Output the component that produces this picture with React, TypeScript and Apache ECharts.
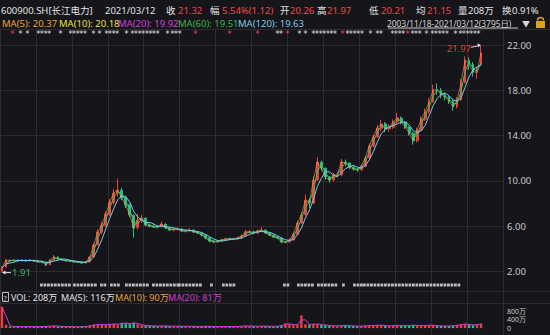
import React, { useEffect, useRef } from "react";
import * as echarts from "echarts";

// [open, close, low, high] per bucket (~32 trading days each)
const candles: number[][] = [
  [2.05, 2.32, 1.91, 2.45], [2.4, 3.02, 2.35, 3.1], [3.0, 2.94, 2.86, 3.08], [2.95, 3.02, 2.9, 3.1],
  [3.03, 2.94, 2.88, 3.08], [2.93, 3.02, 2.89, 3.09], [3.01, 2.94, 2.87, 3.06], [2.95, 3.02, 2.9, 3.1],
  [3.0, 2.94, 2.86, 3.05], [2.95, 2.85, 2.8, 3.0], [2.86, 2.85, 2.78, 2.95], [2.84, 2.58, 2.48, 2.88],
  [2.6, 3.02, 2.56, 3.08], [3.02, 3.29, 2.98, 3.45], [3.28, 3.11, 3.05, 3.35], [3.1, 3.02, 2.96, 3.16],
  [3.01, 2.94, 2.88, 3.06], [2.95, 2.94, 2.87, 3.03], [2.93, 2.85, 2.8, 3.0], [2.86, 2.85, 2.78, 2.93],
  [2.84, 2.76, 2.7, 2.9], [2.77, 2.85, 2.72, 2.92], [2.86, 3.29, 2.82, 3.38], [3.3, 4.35, 3.25, 4.5],
  [4.36, 5.5, 4.28, 5.7], [5.48, 6.11, 5.3, 6.4], [6.1, 7.08, 5.95, 7.3], [7.05, 8.14, 6.9, 8.4],
  [8.1, 8.94, 7.9, 9.3], [8.95, 9.2, 8.6, 10.2], [9.18, 8.5, 8.3, 9.4], [8.52, 7.88, 7.6, 8.7],
  [7.9, 7.0, 6.8, 8.0], [6.95, 5.85, 5.0, 7.05], [5.9, 6.55, 5.7, 7.1], [6.55, 6.73, 6.3, 7.0],
  [6.7, 6.11, 6.0, 6.8], [6.12, 6.02, 5.9, 6.25], [6.03, 5.94, 5.85, 6.15], [5.95, 5.94, 5.82, 6.1],
  [5.95, 6.2, 5.88, 6.4], [6.18, 5.85, 5.75, 6.25], [5.86, 5.67, 5.58, 5.92], [5.66, 5.76, 5.55, 5.9],
  [5.75, 5.76, 5.62, 5.92], [5.77, 5.58, 5.48, 5.82], [5.57, 5.58, 5.45, 5.72], [5.58, 5.67, 5.5, 5.85],
  [5.66, 5.5, 5.4, 5.74], [5.51, 5.41, 5.32, 5.58], [5.4, 5.23, 5.1, 5.46], [5.24, 4.97, 4.85, 5.3],
  [4.98, 4.7, 4.58, 5.02], [4.71, 4.61, 4.52, 4.78], [4.6, 4.7, 4.52, 4.8], [4.71, 4.79, 4.62, 4.9],
  [4.78, 4.88, 4.7, 4.98], [4.89, 4.88, 4.78, 5.0], [4.87, 4.88, 4.76, 4.99], [4.88, 4.97, 4.8, 5.08],
  [4.96, 5.14, 4.9, 5.28], [5.15, 5.5, 5.1, 5.7], [5.5, 5.5, 5.35, 5.68], [5.51, 5.41, 5.3, 5.6],
  [5.4, 5.58, 5.35, 5.72], [5.57, 5.67, 5.48, 5.95], [5.66, 5.41, 5.32, 5.72], [5.42, 5.23, 5.14, 5.48],
  [5.22, 5.05, 4.95, 5.28], [5.06, 4.97, 4.86, 5.12], [4.96, 4.61, 4.5, 5.0], [4.6, 4.61, 4.48, 4.72],
  [4.62, 4.79, 4.55, 4.92], [4.8, 5.32, 4.75, 5.45], [5.3, 6.29, 5.25, 6.45], [6.3, 7.0, 6.2, 7.25],
  [7.02, 8.32, 6.95, 8.8], [8.3, 8.05, 7.6, 8.5], [8.06, 10.08, 7.95, 10.4], [10.1, 11.67, 10.0, 12.1],
  [11.65, 11.14, 10.9, 11.8], [11.12, 10.35, 10.1, 11.2], [10.36, 10.08, 9.85, 10.45], [10.1, 10.53, 9.95, 10.7],
  [10.52, 10.53, 10.3, 10.8], [10.55, 11.67, 10.45, 11.95], [11.65, 11.59, 11.3, 11.9], [11.58, 11.23, 11.05, 11.65],
  [11.22, 11.06, 10.9, 11.3], [11.05, 10.97, 10.8, 11.15], [10.98, 11.32, 10.9, 11.45], [11.3, 12.03, 11.2, 12.2],
  [12.05, 13.09, 11.95, 13.3], [13.1, 13.88, 12.95, 14.1], [13.9, 14.67, 13.8, 14.95], [14.65, 15.03, 14.4, 15.4],
  [15.05, 14.59, 14.3, 15.2], [14.6, 14.76, 14.35, 15.0], [14.75, 15.2, 14.6, 15.45], [15.22, 15.56, 15.0, 16.0],
  [15.55, 15.2, 15.0, 15.7], [15.2, 14.76, 14.6, 15.3], [14.75, 14.23, 14.0, 14.85], [14.2, 13.53, 13.2, 14.3],
  [13.55, 14.5, 13.4, 14.7], [14.5, 15.47, 14.4, 15.7], [15.45, 16.09, 15.3, 16.4], [16.1, 16.97, 15.95, 17.3],
  [17.0, 18.03, 16.9, 18.5], [18.05, 18.03, 17.6, 18.6], [18.0, 17.59, 17.3, 18.2], [17.6, 17.41, 17.1, 17.8],
  [17.4, 17.06, 16.8, 17.55], [17.05, 16.53, 16.2, 17.2], [16.55, 17.15, 16.4, 17.4], [17.15, 18.65, 17.05, 19.0],
  [18.7, 20.68, 18.6, 21.0], [20.65, 20.32, 19.8, 20.9], [20.3, 19.62, 19.2, 20.5], [19.6, 19.62, 19.0, 20.1],
  [20.26, 21.32, 20.21, 21.97],
];

// volume per bucket, in 万
const volumes: number[] = [
  1000, 150, 80, 70, 75, 65, 70, 80, 60, 70, 75, 90, 85, 110, 80, 70, 65, 70, 60, 65, 70, 80,
  120, 160, 180, 170, 150, 190, 200, 170, 250, 230, 200, 260, 180, 140, 120, 110, 100, 90,
  110, 100, 90, 85, 95, 80, 85, 90, 80, 75, 85, 90, 80, 70, 75, 70, 80, 70, 75, 80,
  90, 110, 95, 85, 90, 100, 90, 85, 80, 90, 140, 220, 180, 150, 170, 600, 180, 160, 200, 190,
  150, 140, 120, 110, 100, 130, 120, 110, 100, 90, 100, 110, 130, 120, 140, 130, 110, 100, 120, 130,
  110, 120, 130, 140, 110, 120, 130, 140, 130, 110, 100, 95, 100, 110, 150, 170, 200, 160, 140, 180, 208,
];

const priceMin = 2;
const priceMax = 22;
const priceStep = 4;
const volMax = 1040;
const volStep = 400;
const padSlots = 5;

const UP = "#f03c3c";
const DOWN = "#26bf8c";
const GRID = "#2b2b30";
const BG = "#16161a";
const FONT = "'Noto Sans', 'Noto Sans CJK SC', sans-serif";

const categories = candles.map((_, i) => "d" + i).concat(Array.from({ length: padSlots }, (_, i) => "pad" + i));
const closes = candles.map((c) => c[1]);

function sma(vals: number[], n: number) {
  return vals.map((_, i) => {
    const s = Math.max(0, i - n + 1);
    const w = vals.slice(s, i + 1);
    return +(w.reduce((a, b) => a + b, 0) / w.length).toFixed(3);
  });
}

function txt(x: number, y: number, text: string, fill: string, size = 10, extra: any = {}) {
  return {
    type: "text",
    x,
    y,
    silent: true,
    style: { text, fill, font: `${size}px ${FONT}`, verticalAlign: "middle", align: "left", ...extra },
  };
}

function hline(y: number, x1: number, x2: number, color = GRID) {
  return { type: "line", silent: true, shape: { x1, y1: y, x2, y2: y }, style: { stroke: color, lineWidth: 1 } };
}

function buildDecor() {
  const g: any[] = [];
  const W = "#e2e2e2";
  const R = "#f04848";
  g.push(hline(29.5, 0, 550));
  g.push(hline(291.5, 0, 550));
  g.push(hline(303.5, 0, 550));
  g.push({ type: "line", silent: true, shape: { x1: 503.5, y1: 29, x2: 503.5, y2: 335 }, style: { stroke: GRID, lineWidth: 1 } });
  // header line 1
  const l1: [number, string, string][] = [
    [1, "600900.SH[长江电力]", W], [105, "2021/03/12", W], [166, "收", W], [178, "21.32", R],
    [210, "幅", W], [222, "5.54%(1.12)", R], [280, "开", W], [290, "20.26", R], [317, "高", W],
    [327, "21.97", R], [369, "低", W], [381, "20.21", R], [416, "均", W], [427, "21.15", R],
    [458, "量", W], [468, "208万", W], [502, "换", W], [512, "0.91%", W],
  ];
  l1.forEach(([x, t, c]) => g.push(txt(x, 10, t, c, 9.5)));
  const l2: [number, string, string][] = [
    [2, "MA(5): 20.37", "#e8a33c"], [59, "MA(10): 20.18", "#e4e04a"], [118, "MA(20): 19.92", "#d040d6"],
    [178, "MA(60): 19.51", "#3bb54a"], [238, "MA(120): 19.63", "#7ec8e8"],
  ];
  l2.forEach(([x, t, c]) => g.push(txt(x, 23, t, c, 9.5)));
  g.push(txt(387, 23, "2003/11/18-2021/03/12(3795日)", "#d0d0d0", 8.4));
  g.push(hline(28, 388, 518, "#c8c8c8"));
  g.push(txt(522, 23, "▼", "#d8d8d8", 8));
  // lock icon
  g.push({ type: "rect", silent: true, shape: { x: 536, y: 21, width: 9, height: 7 }, style: { fill: "#d9a21b" } });
  g.push({ type: "arc", silent: true, shape: { cx: 540.5, cy: 20.5, r: 3, startAngle: Math.PI, endAngle: 2 * Math.PI }, style: { stroke: "#d9a21b", fill: "none", lineWidth: 1.5 } });
  // info stars row
  const stars: [number, number, string][] = [
    [10, 1, R], [18, 1, W], [25, 1, W], [36, 4, W], [58, 1, W], [68, 5, W], [91, 1, W], [97, 1, W],
    [104, 4, W], [124, 1, W], [130, 8, W], [165, 1, W], [170, 3, W], [193, 1, R], [227, 1, R], [255, 1, R],
    [275, 2, W], [285, 1, R], [297, 1, W], [303, 1, W], [311, 7, W], [340, 1, R], [345, 5, W], [368, 1, W],
    [375, 2, W], [390, 4, W], [405, 1, R], [410, 3, W], [424, 1, W], [430, 5, W], [453, 1, W], [458, 6, W],
  ];
  stars.forEach(([x, n, c]) => {
    for (let k = 0; k < n; k++) g.push(txt(x + k * 3.6, 34.5, "*", c, 8, { font: `8px 'DejaVu Sans Mono', monospace` }));
  });
  // event squares row
  const sq: [number, number][] = [
    [40, 70], [73, 95], [100, 105], [110, 118], [125, 147], [152, 177], [178, 200], [210, 212], [222, 233],
    [283, 288], [297, 312], [317, 337], [342, 345], [353, 360], [363, 397], [398, 458],
  ];
  sq.forEach(([a, b]) => {
    for (let x = a; x <= b; x += 3.5) {
      g.push({ type: "rect", silent: true, shape: { x, y: 283.5, width: 2.8, height: 3 }, style: { fill: "#b8b8bc" } });
    }
  });
  // volume legend
  g.push({ type: "rect", silent: true, shape: { x: 2.5, y: 292.5, width: 6, height: 9 }, style: { fill: "none", stroke: "#bdbdbd", lineWidth: 1 } });
  g.push(txt(3.6, 297.5, "?", "#d0d0d0", 7.5));
  const l3: [number, string, string][] = [
    [11, "VOL: 208万", W], [61, "MA(5): 116万", W], [115, "MA(10): 90万", "#e8a33c"], [168, "MA(20): 81万", "#c93fd0"],
  ];
  l3.forEach(([x, t, c]) => g.push(txt(x, 297.5, t, c, 9)));
  return g;
}

export default function App() {
  const ref = useRef<HTMLDivElement>(null);
  useEffect(() => {
    document.body.style.margin = "0";
    document.body.style.background = BG;
    if (!ref.current) return;
    const chart = echarts.init(ref.current, undefined, { renderer: "svg" });
    const hidden = {
      axisLine: { show: false },
      axisTick: { show: false },
      axisLabel: { show: false },
      splitLine: { show: false },
    };
    const option: any = {
      backgroundColor: BG,
      animation: false,
      grid: [
        { left: 0, top: 29, width: 503, height: 306 },
        { left: 0, top: 45, width: 503, height: 226.6 },
        { left: 0, top: 306, width: 503, height: 22.1 },
      ],
      xAxis: [
        {
          gridIndex: 0, type: "category", data: categories, boundaryGap: true,
          axisLine: { show: false }, axisTick: { show: false }, axisLabel: { show: false },
          splitLine: { show: true, interval: 8, lineStyle: { color: GRID, width: 1 } },
        },
        { gridIndex: 1, type: "category", data: categories, boundaryGap: true, ...hidden },
        { gridIndex: 2, type: "category", data: categories, boundaryGap: true, ...hidden },
      ],
      yAxis: [
        { gridIndex: 0, type: "value", show: false },
        {
          gridIndex: 1, type: "value", min: priceMin, max: priceMax, interval: priceStep, position: "right",
          axisLine: { show: false }, axisTick: { show: false },
          axisLabel: { color: "#c8c8c8", fontSize: 9.5, margin: 4, fontFamily: FONT, formatter: (v: number) => v.toFixed(2) },
          splitLine: { show: true, lineStyle: { color: GRID, width: 1 } },
        },
        {
          gridIndex: 2, type: "value", min: 0, max: volMax, interval: volStep, position: "right",
          axisLine: { show: false }, axisTick: { show: false }, splitLine: { show: false },
          axisLabel: {
            color: "#c8c8c8", fontSize: 7, margin: 4, lineHeight: 7, fontFamily: FONT, showMaxLabel: false, showMinLabel: true,
            formatter: (v: number) => (v === 0 ? "0" : v % volStep === 0 ? v + "万" : ""),
          },
        },
      ],
      series: [
        {
          type: "candlestick", xAxisIndex: 1, yAxisIndex: 1, data: candles, barWidth: 2.2, clip: false,
          itemStyle: { color: UP, color0: DOWN, borderColor: UP, borderColor0: DOWN, borderWidth: 1 },
        },
        { type: "line", xAxisIndex: 1, yAxisIndex: 1, data: closes, symbol: "none", lineStyle: { color: "#eda04a", width: 0.8, opacity: 0.8 }, z: 3 },
        { type: "line", xAxisIndex: 1, yAxisIndex: 1, data: sma(closes, 2), symbol: "none", lineStyle: { color: "#39c45a", width: 1 }, z: 4 },
        { type: "line", xAxisIndex: 1, yAxisIndex: 1, data: sma(closes, 4), symbol: "none", lineStyle: { color: "#7cc8ee", width: 1 }, z: 4 },
        {
          type: "bar", xAxisIndex: 2, yAxisIndex: 2, barWidth: 2.4,
          data: volumes.map((v, i) => ({ value: v, itemStyle: { color: candles[i][1] >= candles[i][0] ? UP : DOWN } })),
        },
        { type: "line", xAxisIndex: 2, yAxisIndex: 2, data: sma(volumes, 2), symbol: "none", lineStyle: { color: "#c93fd0", width: 1 }, z: 4 },
      ],
    };
    chart.setOption(option);

    // high / low annotations positioned through the axes
    let hiIdx = 0, loIdx = 0;
    candles.forEach((c, i) => {
      if (c[3] > candles[hiIdx][3]) hiIdx = i;
      if (c[2] < candles[loIdx][2]) loIdx = i;
    });
    const hiVal = candles[hiIdx][3];
    const loVal = candles[loIdx][2];
    const hp = chart.convertToPixel({ xAxisIndex: 1, yAxisIndex: 1 }, [categories[hiIdx], hiVal]) as number[];
    const lp = chart.convertToPixel({ xAxisIndex: 1, yAxisIndex: 1 }, [categories[loIdx], loVal]) as number[];
    const ann: any[] = [
      { type: "line", silent: true, shape: { x1: hp[0] - 10, y1: hp[1] + 2, x2: hp[0] - 1, y2: hp[1] }, style: { stroke: "#e0e0e0", lineWidth: 1 } },
      { type: "polygon", silent: true, shape: { points: [[hp[0], hp[1]], [hp[0] - 3.5, hp[1] - 2], [hp[0] - 3, hp[1] + 1.8]] }, style: { fill: "#e0e0e0" } },
      txt(hp[0] - 10, hp[1] + 3.5, hiVal.toFixed(2), "#e03c3c", 9.5, { align: "right" }),
      { type: "line", silent: true, shape: { x1: lp[0] + 1, y1: lp[1], x2: lp[0] + 9, y2: lp[1] }, style: { stroke: "#e0e0e0", lineWidth: 1 } },
      { type: "polygon", silent: true, shape: { points: [[lp[0], lp[1]], [lp[0] + 3.5, lp[1] - 2], [lp[0] + 3.5, lp[1] + 2]] }, style: { fill: "#e0e0e0" } },
      txt(lp[0] + 10, lp[1], loVal.toFixed(2), "#35b56a", 9.5),
    ];
    chart.setOption({ graphic: [...buildDecor(), ...ann] });
    return () => chart.dispose();
  }, []);
  return <div ref={ref} style={{ width: 550, height: 335 }} />;
}
